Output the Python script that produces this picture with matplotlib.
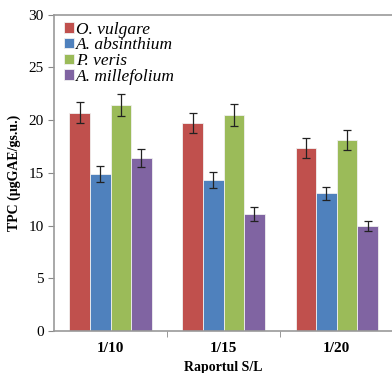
import numpy as np
import matplotlib
matplotlib.use("Agg")
from matplotlib import pyplot as plt

# 数据
ratios = ["1/10", "1/15", "1/20"]
species = ["O. vulgare", "A. absinthium", "P. veris", "A. millefolium"]
o_vulgare = [20.7, 19.7, 17.4]
a_absinthium = [14.9, 14.3, 13.05]
p_veris = [21.45, 20.45, 18.1]
a_millefolium = [16.45, 11.1, 9.95]
err_o_vulgare = [1.0, 0.95, 0.95]
err_a_absinthium = [0.75, 0.75, 0.65]
err_p_veris = [1.05, 1.05, 0.95]
err_a_millefolium = [0.85, 0.65, 0.5]

values = [o_vulgare, a_absinthium, p_veris, a_millefolium]
errors = [err_o_vulgare, err_a_absinthium, err_p_veris, err_a_millefolium]
colors = ["#C0504D", "#4F81BD", "#9BBB59", "#8064A2"]

plt.rcParams['font.family'] = ['Liberation Serif', 'DejaVu Serif']

fig = plt.figure(figsize=(3.92, 3.73), dpi=100)
ax = fig.add_axes([0.138, 0.1126, 0.865, 0.848])

x = np.arange(len(ratios))
w = 0.182
for i in range(4):
    ax.bar(x + (i - 1.5) * w, values[i], w, color=colors[i],
           edgecolor="#f0f0f0", linewidth=0.6, label=species[i],
           yerr=errors[i], error_kw=dict(ecolor="#222222", elinewidth=0.9,
                                         capsize=3, capthick=0.9))

ax.set_xlim(-0.5, 2.5)
ax.set_ylim(0, 30)
ax.set_yticks(range(0, 31, 5))
ax.set_xticks(x)
ax.set_xticklabels(ratios, fontweight="bold", fontsize=11)
ax.set_xticks([0.5, 1.5], minor=True)
ax.tick_params(axis="x", which="major", length=0, pad=8)
ax.tick_params(axis="x", which="minor", length=4, color="#888888", direction="out")
ax.tick_params(axis="y", length=4, color="#888888", direction="out", labelsize=11)

for s in ax.spines.values():
    s.set_color("#999999")
    s.set_linewidth(1.2)

ax.set_xlabel("Raportul S/L", fontweight="bold", fontsize=10, labelpad=4)
ax.set_ylabel("TPC (μgGAE/gs.u.)", fontweight="bold", fontsize=10, labelpad=5)

leg = ax.legend(loc="upper left", frameon=False,
                prop={"style": "italic", "size": 12.5},
                handlelength=0.55, handleheight=0.55, handletextpad=0.15,
                labelspacing=-0.02, borderaxespad=0.0, bbox_to_anchor=(0.009, 1.0))

fig.savefig("out.png", dpi=100)
